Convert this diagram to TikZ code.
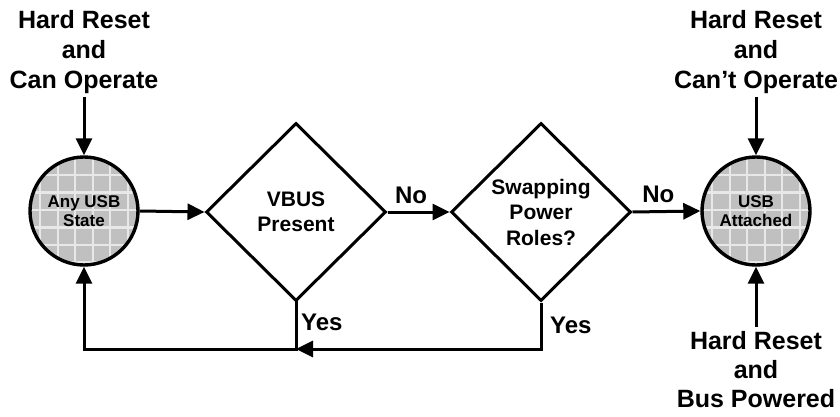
\documentclass[tikz,border=0pt]{standalone}
\usepackage{fontspec}
\setmainfont{Liberation Sans}
\usetikzlibrary{shapes.geometric,arrows.meta}
\definecolor{cfill}{HTML}{C0C0C0}
\definecolor{cgrid}{HTML}{E8E8E8}
\tikzset{
 lbl/.style={font=\bfseries\fontsize{25}{30}\selectfont, align=center, inner xsep=0pt},
 lblb/.style={font=\bfseries\fontsize{25}{29.2}\selectfont, align=center, inner xsep=0pt},
 dia/.style={shape=diamond, draw, line width=3pt, minimum width=180pt, minimum height=178pt, inner sep=0pt, font=\bfseries\fontsize{21}{25.5}\selectfont, align=center},
 st/.style={circle, draw, line width=3.4pt, minimum size=108pt, inner sep=0pt, font=\bfseries\fontsize{17}{19.5}\selectfont, align=center},
 arr/.style={line width=3pt, -{Triangle[length=17pt,width=16pt]}},
 ln/.style={line width=3pt, line cap=rect},
 edgelbl/.style={font=\bfseries\fontsize{24}{24}\selectfont, inner sep=0pt},
 gridln/.style={cgrid, line width=2.2pt}
}
\begin{document}
\begin{tikzpicture}[x=1pt,y=-1pt]
\useasboundingbox (0,0) rectangle (840,417);

% circle backgrounds with grid
\begin{scope}
\clip (84,211) circle (54pt);
\fill[cfill] (84,211) circle (54pt);
\foreach \k in {-4,...,3} \draw[gridln] ({84+8.75+17.5*\k},150) -- ++(0,125);
\foreach \k in {-3,...,3} \draw[gridln] (20,{210+17.5*\k}) -- ++(130,0);
\end{scope}
\begin{scope}
\clip (756,211) circle (54pt);
\fill[cfill] (756,211) circle (54pt);
\foreach \k in {-4,...,3} \draw[gridln] ({756+8.75+17.5*\k},150) -- ++(0,125);
\foreach \k in {-3,...,3} \draw[gridln] (690,{210+17.5*\k}) -- ++(130,0);
\end{scope}

\node[st] (c1) at (84,211) {Any USB\\State};
\node[st] (c2) at (756,211) {USB\\Attached};

\node[dia] (d1) at (296,212) {VBUS\\Present};
\node[dia] (d2) at (541,212) {Swapping\\Power\\Roles?};

\node[lbl, anchor=south, inner ysep=3pt] (t1) at (84,97) {Hard Reset\\and\\Can Operate};
\node[lbl, anchor=south, inner ysep=3pt] (t2) at (756,97) {Hard Reset\\and\\Can’t Operate};
\node[lblb, anchor=north, inner ysep=4pt] (t3) at (756,327) {Hard Reset\\and\\Bus Powered};

\draw[arr] (t1.south) -- (c1.north);
\draw[arr] (t2.south) -- (c2.north);
\draw[arr] (t3.north) -- (c2.south);

\draw[arr] (c1.east) -- (d1.west);
\draw[arr] (d1.east) -- node[edgelbl, above=7pt, pos=0.38] (n1) {No} (d2.west);
\draw[arr] (d2.east) -- node[edgelbl, above=7pt, pos=0.38] (n2) {No} (c2.west);

\node[edgelbl, anchor=north west] (y1) at ([xshift=5pt,yshift=-11pt]d1.south) {Yes};
\node[edgelbl, anchor=north west] (y2) at ([xshift=9pt,yshift=-14pt]d2.south) {Yes};

\coordinate (j) at (296,349);
\draw[ln] (d1.south) -- (j);
\draw[arr] (d2.south) |- (j);
\draw[arr] (j) -| (c1.south);
\end{tikzpicture}
\end{document}
